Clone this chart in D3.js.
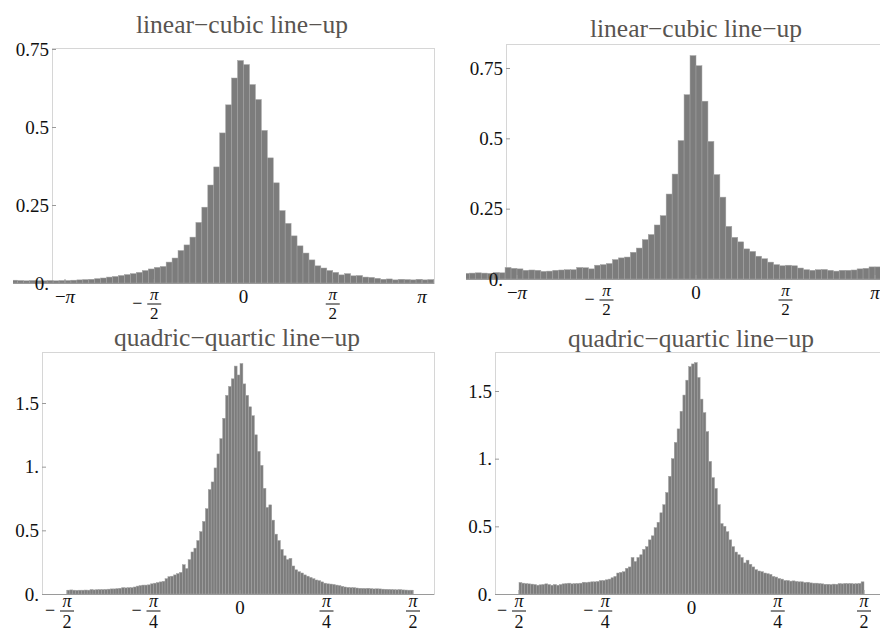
<!DOCTYPE html>
<html>
<head>
<meta charset="utf-8">
<script src="https://cdnjs.cloudflare.com/ajax/libs/d3/7.8.5/d3.min.js"></script>
<style>
  body { margin: 0; background: #fff; }
  text { font-family: "Liberation Serif", "DejaVu Serif", serif; }
</style>
</head>
<body>
<svg id="chart" width="880" height="633"></svg>
<script>
// bin widths (radians)
var wideBin = Math.PI / 30;
var narrowBin = Math.PI / 120;

// linear-cubic, left panel: bins -39 .. 32
var tlFirst = -39;
var tlValues = [
  0.009, 0.008, 0.007, 0.008, 0.007, 0.007, 0.008, 0.007, 0.008,
  0.008, 0.009, 0.010, 0.011, 0.012, 0.014, 0.016, 0.019, 0.021, 0.024,
  0.027, 0.030, 0.034, 0.040, 0.045, 0.050, 0.053, 0.067, 0.080, 0.104,
  0.122, 0.147, 0.194, 0.243, 0.314, 0.372, 0.481, 0.571, 0.657, 0.713,
  0.700, 0.636, 0.588, 0.489, 0.401, 0.321, 0.232, 0.191, 0.151, 0.119,
  0.096, 0.074, 0.055, 0.048, 0.040, 0.034, 0.026, 0.030, 0.023, 0.024,
  0.019, 0.018, 0.015, 0.012, 0.013, 0.010, 0.012, 0.011, 0.010, 0.012, 0.010, 0.011, 0.010
];

// linear-cubic, right panel: bins -39 .. 30
var trFirst = -39;
var trValues = [
  0.020, 0.021, 0.022, 0.021, 0.020, 0.023, 0.022,
  0.041, 0.038, 0.036, 0.031, 0.032, 0.031, 0.027, 0.028, 0.031, 0.032, 0.033, 0.033,
  0.041, 0.040, 0.036, 0.049, 0.051, 0.055, 0.069, 0.075, 0.078, 0.095,
  0.110, 0.140, 0.158, 0.192, 0.225, 0.302, 0.373, 0.492, 0.655, 0.794,
  0.758, 0.632, 0.489, 0.371, 0.291, 0.187, 0.148, 0.132, 0.107, 0.098,
  0.081, 0.072, 0.060, 0.051, 0.047, 0.049, 0.047, 0.039, 0.033, 0.031,
  0.033, 0.034, 0.031, 0.028, 0.031, 0.031, 0.032, 0.036, 0.038, 0.043, 0.043
];

// quadric-quartic, left panel: bins -60 .. 59
var blFirst = -60;
var blValues = [
  0.030, 0.032, 0.030, 0.029, 0.030, 0.030, 0.031, 0.030, 0.035, 0.032,
  0.034, 0.035, 0.035, 0.036, 0.038, 0.040, 0.040, 0.042, 0.045, 0.050,
  0.048, 0.050, 0.050, 0.055, 0.062, 0.066, 0.070, 0.070, 0.072, 0.080,
  0.085, 0.090, 0.095, 0.100, 0.120, 0.136, 0.140, 0.150, 0.160, 0.170,
  0.230, 0.200, 0.270, 0.330, 0.360, 0.420, 0.490, 0.570, 0.670, 0.820,
  0.880, 0.990, 1.100, 1.220, 1.380, 1.560, 1.630, 1.690, 1.790, 1.720,
  1.810, 1.650, 1.560, 1.470, 1.400, 1.250, 1.120, 1.010, 0.830, 0.680,
  0.700, 0.580, 0.470, 0.420, 0.350, 0.300, 0.270, 0.280, 0.220, 0.190,
  0.175, 0.165, 0.150, 0.140, 0.130, 0.120, 0.110, 0.105, 0.095, 0.085,
  0.080, 0.078, 0.075, 0.070, 0.066, 0.060, 0.055, 0.052, 0.050, 0.050,
  0.047, 0.045, 0.044, 0.043, 0.045, 0.042, 0.040, 0.041, 0.040, 0.038,
  0.037, 0.036, 0.035, 0.034, 0.033, 0.035, 0.032, 0.031, 0.030, 0.030
];

// quadric-quartic, right panel: bins -60 .. 59
var brFirst = -60;
var brValues = [
  0.085, 0.080, 0.077, 0.075, 0.073, 0.070, 0.065, 0.068, 0.070, 0.075,
  0.070, 0.065, 0.070, 0.065, 0.070, 0.075, 0.077, 0.080, 0.075, 0.077,
  0.078, 0.080, 0.087, 0.085, 0.088, 0.090, 0.090, 0.093, 0.100, 0.100,
  0.105, 0.110, 0.120, 0.130, 0.155, 0.160, 0.165, 0.190, 0.200, 0.270,
  0.240, 0.270, 0.290, 0.330, 0.350, 0.400, 0.430, 0.490, 0.530, 0.600,
  0.660, 0.750, 0.870, 1.000, 1.120, 1.220, 1.350, 1.470, 1.580, 1.680,
  1.700, 1.710, 1.600, 1.440, 1.340, 1.200, 0.980, 0.860, 0.780, 0.660,
  0.520, 0.500, 0.460, 0.400, 0.350, 0.310, 0.290, 0.270, 0.230, 0.250,
  0.220, 0.200, 0.180, 0.170, 0.165, 0.155, 0.150, 0.145, 0.130, 0.125,
  0.115, 0.110, 0.100, 0.100, 0.095, 0.097, 0.093, 0.090, 0.090, 0.085,
  0.087, 0.082, 0.080, 0.080, 0.077, 0.075, 0.072, 0.072, 0.070, 0.073,
  0.072, 0.077, 0.075, 0.078, 0.077, 0.078, 0.075, 0.076, 0.078, 0.090
];

var topTicks = [-Math.PI, -Math.PI / 2, 0, Math.PI / 2, Math.PI];
var topTickLabels = ["−π", "−π/2", "0", "π/2", "π"];
var bottomTicks = [-Math.PI / 2, -Math.PI / 4, 0, Math.PI / 4, Math.PI / 2];
var bottomTickLabels = ["−π/2", "−π/4", "0", "π/4", "π/2"];

var topYTicks = [0, 0.25, 0.5, 0.75];
var topYLabels = ["0.", "0.25", "0.5", "0.75"];
var bottomYTicks = [0, 0.5, 1, 1.5];
var bottomYLabels = ["0.", "0.5", "1.", "1.5"];

var titles = ["linear−cubic line−up", "linear−cubic line−up", "quadric−quartic line−up", "quadric−quartic line−up"];

var svg = d3.select("#chart");

var panels = [
  { title: titles[0], first: tlFirst, values: tlValues, bin: wideBin,
    xTicks: topTicks, xLabels: topTickLabels, yTicks: topYTicks, yLabels: topYLabels,
    xDomain: [-Math.PI, Math.PI], xRange: [65, 422], yDomain: [0, 0.75], yRange: [283, 49],
    left: 52, top: 48, right: 434, clipLeft: 13, titleX: 242, titleY: 33,
    fracDy: 21, denDy: 15, fracSize: 17 },
  { title: titles[1], first: trFirst, values: trValues, bin: wideBin,
    xTicks: topTicks, xLabels: topTickLabels, yTicks: topYTicks, yLabels: topYLabels,
    xDomain: [-Math.PI, Math.PI], xRange: [517, 875], yDomain: [0, 0.75], yRange: [279, 68],
    left: 506, top: 44, right: 890, clipLeft: 466, titleX: 696, titleY: 37,
    fracDy: 21, denDy: 15, fracSize: 17 },
  { title: titles[2], first: blFirst, values: blValues, bin: narrowBin,
    xTicks: bottomTicks, xLabels: bottomTickLabels, yTicks: bottomYTicks, yLabels: bottomYLabels,
    xDomain: [-Math.PI / 2, Math.PI / 2], xRange: [67, 413], yDomain: [0, 1.5], yRange: [594, 403],
    left: 42, top: 352, right: 434, clipLeft: 42, titleX: 237, titleY: 346,
    fracDy: 17, denDy: 17, fracSize: 18 },
  { title: titles[3], first: brFirst, values: brValues, bin: narrowBin,
    xTicks: bottomTicks, xLabels: bottomTickLabels, yTicks: bottomYTicks, yLabels: bottomYLabels,
    xDomain: [-Math.PI / 2, Math.PI / 2], xRange: [519, 864], yDomain: [0, 1.5], yRange: [594, 391],
    left: 495, top: 352, right: 890, clipLeft: 495, titleX: 691, titleY: 347,
    fracDy: 17, denDy: 17, fracSize: 18 }
];

panels.forEach(function (p, k) {
  var x = d3.scaleLinear().domain(p.xDomain).range(p.xRange);
  var y = d3.scaleLinear().domain(p.yDomain).range(p.yRange);
  var y0 = y(0);
  var g = svg.append("g");

  // frame
  g.append("rect")
    .attr("x", p.left + 0.5).attr("y", p.top + 0.5)
    .attr("width", p.right - p.left).attr("height", y0 - p.top)
    .attr("fill", "none").attr("stroke", "#d6d6d6").attr("stroke-width", 1);

  svg.append("clipPath").attr("id", "clip" + k)
    .append("rect")
    .attr("x", p.clipLeft).attr("y", p.top)
    .attr("width", p.right - p.clipLeft).attr("height", y0 - p.top + 2);

  var bars = p.values.map(function (v, i) {
    return { lo: (p.first + i) * p.bin, hi: (p.first + i + 1) * p.bin, v: v };
  });

  g.append("g").attr("clip-path", "url(#clip" + k + ")")
    .selectAll("rect")
    .data(bars)
    .enter()
    .append("rect")
    .attr("x", function (d) { return x(d.lo); })
    .attr("width", function (d) { return x(d.hi) - x(d.lo); })
    .attr("y", function (d) { return y(d.v); })
    .attr("height", function (d) { return y0 - y(d.v); })
    .attr("fill", "#7c7c7c")
    .attr("stroke", "#a2a2a2")
    .attr("stroke-width", 0.5);

  // axis line
  g.append("line")
    .attr("x1", p.clipLeft).attr("x2", p.right)
    .attr("y1", y0 + 0.5).attr("y2", y0 + 0.5)
    .attr("stroke", "#9a9a9a").attr("stroke-width", 1);

  // y ticks + labels
  p.yTicks.forEach(function (t, i) {
    g.append("line")
      .attr("x1", p.left).attr("x2", p.left + 4)
      .attr("y1", y(t) + 0.5).attr("y2", y(t) + 0.5)
      .attr("stroke", "#999");
    g.append("text")
      .attr("x", p.left - 3).attr("y", y(t)).attr("dy", "0.35em")
      .attr("text-anchor", "end")
      .attr("font-size", 19).attr("fill", "#111")
      .text(p.yLabels[i]);
  });

  // x ticks + labels
  p.xTicks.forEach(function (t, i) {
    var cx = x(t);
    var lab = p.xLabels[i];
    g.append("line")
      .attr("x1", cx).attr("x2", cx)
      .attr("y1", y0).attr("y2", y0 - 4)
      .attr("stroke", "#999");
    if (lab.indexOf("/") < 0) {
      var t1 = g.append("text")
        .attr("x", cx).attr("y", y0 + 20)
        .attr("text-anchor", "middle")
        .attr("font-size", 19).attr("fill", "#111");
      if (lab.indexOf("π") >= 0) {
        if (lab[0] === "−") t1.append("tspan").text("−");
        t1.append("tspan").attr("font-style", "italic").text("π");
      } else {
        t1.text(lab);
      }
    } else {
      // stacked fraction
      var neg = lab[0] === "−";
      var parts = lab.replace("−", "").split("/");
      var by = y0 + p.fracDy;
      g.append("line")
        .attr("x1", cx - 7).attr("x2", cx + 7)
        .attr("y1", by).attr("y2", by)
        .attr("stroke", "#111").attr("stroke-width", 1);
      if (neg) {
        g.append("text").attr("x", cx - 17).attr("y", by + 5)
          .attr("text-anchor", "middle")
          .attr("font-size", 18).attr("fill", "#111").text("−");
      }
      g.append("text").attr("x", cx).attr("y", by - 4)
        .attr("text-anchor", "middle").attr("font-style", "italic")
        .attr("font-size", p.fracSize).attr("fill", "#111").text(parts[0]);
      g.append("text").attr("x", cx).attr("y", by + p.denDy)
        .attr("text-anchor", "middle")
        .attr("font-size", p.fracSize).attr("fill", "#111").text(parts[1]);
    }
  });

  // title
  g.append("text")
    .attr("x", p.titleX).attr("y", p.titleY)
    .attr("text-anchor", "middle")
    .attr("font-size", 25.5).attr("fill", "#585450")
    .text(p.title);
});
</script>
</body>
</html>
